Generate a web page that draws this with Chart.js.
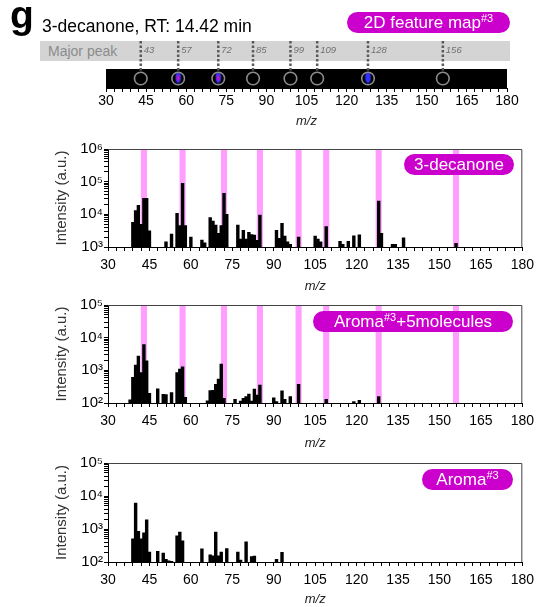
<!DOCTYPE html>
<html>
<head>
<meta charset="utf-8">
<script src="https://cdn.jsdelivr.net/npm/chart.js@4.4.1/dist/chart.umd.min.js"></script>
<style>
  body { margin: 0; width: 540px; height: 607px; background: #fff; position: relative; overflow: hidden;
         font-family: "Liberation Sans", Arial, sans-serif; }
  canvas { position: absolute; left: 0; }
  .pill { position: absolute; background: #cc00cc; color: #fff; border-radius: 11px; height: 21px;
          line-height: 21px; font-size: 17px; text-align: center; white-space: nowrap; }
  .pill sup { font-size: 11px; vertical-align: 6px; line-height: 0; }
  #letra { position: absolute; left: 10px; top: -5px; font-size: 39px; line-height: 39px; font-weight: bold; }
  #titulo { position: absolute; left: 42px; top: 16px; font-size: 17.5px; line-height: 20px; }
  #banda { position: absolute; left: 40px; top: 41px; width: 470px; height: 20px; background: #d4d4d4; }
  #banda span { position: absolute; left: 8px; top: 2px; font-size: 14px; line-height: 16px; color: #8c8c8c; }
</style>
</head>
<body>
<div id="banda"><span>Major peak</span></div>
<canvas id="mapa" width="540" height="129" style="top:0"></canvas>
<canvas id="c-decanona" width="540" height="166" style="top:128px"></canvas>
<canvas id="c-mezcla" width="540" height="167" style="top:284px"></canvas>
<canvas id="c-aroma" width="540" height="166" style="top:441px"></canvas>
<div id="letra">g</div>
<div id="titulo">3-decanone, RT: 14.42 min</div>
<div class="pill" style="left:347px; top:12px; width:163px;">2D feature map<sup>#3</sup></div>
<div class="pill" style="left:404px; top:154px; width:110px;">3-decanone</div>
<div class="pill" style="left:313px; top:311px; width:200px;">Aroma<sup>#3</sup>+5molecules</div>
<div class="pill" style="left:422px; top:469px; width:91px;">Aroma<sup>#3</sup></div>

<script>
// Eje m/z común
const mzMin = 30, mzMax = 180, mzStep = 3, mzLabelEvery = 15;

// Picos principales de la 3-decanona (mapa 2D)
const majorPeaks = [43, 57, 72, 85, 99, 109, 128, 156];
const mapHits = [57, 72, 128];
const mapHitInner = ['#b01cb8', '#b01cb8', null];

// Espectro 3-decanona
const decanoneMz  = [39, 40, 41, 42, 43, 44, 45, 51, 53, 55, 56, 57, 58, 60, 64, 65, 67, 68, 69, 70, 71, 72, 73,
                     77, 78, 79, 80, 81, 82, 83, 84, 85, 91, 92, 93, 94, 95, 96, 99, 105, 106, 107, 109,
                     114, 115, 117, 119, 121, 128, 129, 133, 134, 137, 156];
const decanoneInt = [5700, 13000, 19000, 4900, 31000, 31000, 3100, 1450, 2500, 10700, 4500, 89000, 4500, 2000,
                     1630, 1350, 7900, 6200, 4700, 2600, 4500, 44000, 10000,
                     4700, 1760, 3250, 1750, 2800, 2400, 2300, 1600, 9500, 3250, 1850, 5300, 2170, 1450, 1200,
                     2000, 2170, 1750, 1450, 4200, 1500, 1200, 1500, 2200, 2350, 25500, 2600, 1200, 1200, 1900, 1300];

// Espectro Aroma#3 + 5 moléculas
const mixMz  = [38, 39, 40, 41, 42, 43, 44, 45, 48, 50, 51, 53, 55, 56, 57, 58, 66, 67, 68, 69, 70, 71, 72,
                76, 78, 79, 80, 81, 82, 83, 84, 85, 90, 91, 93, 94, 96, 99, 109, 119, 121, 128];
const mixInt = [124, 610, 1450, 2750, 850, 6100, 1950, 198, 270, 185, 180, 210, 850, 1100, 1290, 150,
                116, 238, 245, 373, 540, 1550, 140, 130, 115, 139, 156, 188, 115, 268, 175, 355,
                145, 110, 237, 130, 156, 373, 130, 110, 120, 156];

// Espectro Aroma#3
const aromaMz  = [39, 40, 41, 42, 43, 44, 45, 48, 50, 51, 52, 53, 55, 56, 57, 64, 67, 68, 69, 70, 71, 73,
                  77, 78, 80, 82, 83, 91, 93];
const aromaInt = [500, 6100, 850, 500, 760, 1900, 200, 210, 187, 120, 108, 105, 625, 810, 440, 250,
                  166, 155, 810, 155, 200, 253, 200, 115, 405, 145, 150, 120, 197];

// Décadas del eje log y sus etiquetas
const decanoneDecades = [1e3, 1e4, 1e5, 1e6];
const decanoneLabels  = ['10³', '10⁴', '10⁵', '10⁶'];
const aromaDecades = [1e2, 1e3, 1e4, 1e5];
const aromaLabels  = ['10²', '10³', '10⁴', '10⁵'];

Chart.defaults.font.family = '"Liberation Sans", Arial, sans-serif';
Chart.defaults.color = '#000';

function mzAxis(height, labelPad) {
    return {
        type: 'linear', min: mzMin, max: mzMax, offset: false,
        ticks: {
            stepSize: mzStep, autoSkip: false, maxRotation: 0, padding: labelPad,
            font: { size: 14 }, color: '#000',
            callback: v => (v % mzLabelEvery === 0 ? v : '')
        },
        grid: { drawOnChartArea: false, tickLength: 4, color: '#000', offset: false },
        border: { color: '#000' },
        title: { display: true, text: 'm/z', font: { size: 13, style: 'italic' }, color: '#222', padding: { top: 0, bottom: 0 } },
        afterFit: s => { s.height = height; }
    };
}

// Mapa 2D de picos
function makeBlob(inner) {
    const c = document.createElement('canvas');
    c.width = 7; c.height = 12;
    const g = c.getContext('2d');
    g.fillStyle = '#3030ff';
    g.beginPath(); g.ellipse(3.5, 6, 2.8, 5.5, 0, 0, 2 * Math.PI); g.fill();
    if (inner) {
        g.fillStyle = inner;
        g.beginPath(); g.ellipse(3.5, 6.5, 1.6, 3.3, 0, 0, 2 * Math.PI); g.fill();
    }
    return c;
}

const mapPlugin = {
    id: 'mapa',
    beforeDatasetsDraw(chart) {
        const { ctx, chartArea: a, scales: { x } } = chart;
        ctx.save();
        ctx.fillStyle = '#000';
        ctx.fillRect(a.left, a.top, a.right - a.left, a.bottom - a.top);
        ctx.setLineDash([2.5, 2]);
        ctx.strokeStyle = '#5a5a5a';
        ctx.lineWidth = 2.5;
        majorPeaks.forEach(m => {
            const px = x.getPixelForValue(m);
            ctx.beginPath(); ctx.moveTo(px, 41); ctx.lineTo(px, a.top + 2); ctx.stroke();
        });
        ctx.setLineDash([]);
        ctx.font = 'italic 9.5px "Liberation Sans", Arial';
        ctx.fillStyle = '#707070';
        ctx.textBaseline = 'middle';
        majorPeaks.forEach(m => ctx.fillText(String(m), x.getPixelForValue(m) + 3, 50));
        ctx.restore();
    }
};

new Chart(document.getElementById('mapa'), {
    type: 'scatter',
    data: {
        datasets: [{
            data: majorPeaks.map(m => ({ x: m, y: 0.5 })),
            pointRadius: 6.3, pointBorderWidth: 1.6,
            pointBorderColor: '#8c8c8c', pointBackgroundColor: 'rgba(0,0,0,0)'
        }, {
            data: mapHits.map(m => ({ x: m, y: 0.55 })),
            pointStyle: mapHitInner.map(makeBlob)
        }]
    },
    options: {
        responsive: false, animation: false,
        layout: { padding: { left: 106, right: 33, top: 69, bottom: 0 } },
        plugins: { legend: { display: false }, tooltip: { enabled: false } },
        scales: {
            x: mzAxis(41, 1),
            y: { display: false, min: 0, max: 1 }
        }
    },
    plugins: [mapPlugin]
});

// Paneles de espectros
const bandPlugin = {
    id: 'bandas',
    beforeDatasetsDraw(chart, args, opts) {
        const { ctx, chartArea: a, scales: { x } } = chart;
        ctx.save();
        ctx.fillStyle = '#ff9eff';
        (opts.peaks || []).forEach(m => {
            const x0 = x.getPixelForValue(m - 1.1), x1 = x.getPixelForValue(m + 1.1);
            ctx.fillRect(x0, a.top, x1 - x0, a.bottom - a.top);
        });
        ctx.restore();
    },
    afterDatasetsDraw(chart) {
        const { ctx, chartArea: a } = chart;
        ctx.save();
        ctx.strokeStyle = '#444';
        ctx.lineWidth = 1;
        ctx.beginPath();
        ctx.moveTo(a.left, a.top + 0.5); ctx.lineTo(a.right - 0.5, a.top + 0.5); ctx.lineTo(a.right - 0.5, a.bottom);
        ctx.stroke();
        ctx.restore();
    }
};

function createSpectrum(id, mz, values, decades, labels, padTop, axisHeight, peaks) {
    const tickValues = [];
    for (let i = 0; i < decades.length - 1; i++) {
        for (let k = 1; k < 10; k++) tickValues.push(decades[i] * k);
    }
    tickValues.push(decades[decades.length - 1]);

    new Chart(document.getElementById(id), {
        type: 'bar',
        data: {
            datasets: [{
                data: mz.map((m, i) => ({ x: m, y: values[i] })),
                backgroundColor: '#000', borderWidth: 0,
                barPercentage: 1, categoryPercentage: 1
            }]
        },
        options: {
            responsive: false, animation: false,
            layout: { padding: { left: 0, right: 16, top: padTop, bottom: 0 } },
            plugins: { legend: { display: false }, tooltip: { enabled: false }, bandas: { peaks: peaks } },
            scales: {
                x: mzAxis(axisHeight, 6),
                y: {
                    type: 'logarithmic', min: decades[0], max: decades[decades.length - 1], beginAtZero: false,
                    afterBuildTicks: s => { s.ticks = tickValues.map(v => ({ value: v })); },
                    afterFit: s => { s.width = 108; },
                    ticks: {
                        autoSkip: false, padding: 1, font: { size: 15 }, color: '#000',
                        callback: v => { const i = decades.indexOf(v); return i >= 0 ? labels[i] : ''; }
                    },
                    grid: { drawOnChartArea: false, tickLength: 4, color: '#000' },
                    border: { color: '#000' },
                    title: { display: true, text: 'Intensity (a.u.)', font: { size: 15 }, color: '#333',
                             padding: { top: 53, bottom: 0 } }
                }
            }
        },
        plugins: [bandPlugin]
    });
}

createSpectrum('c-decanona', decanoneMz, decanoneInt, decanoneDecades, decanoneLabels, 21, 47, majorPeaks);
createSpectrum('c-mezcla', mixMz, mixInt, aromaDecades, aromaLabels, 21, 48, majorPeaks);
createSpectrum('c-aroma', aromaMz, aromaInt, aromaDecades, aromaLabels, 22, 45, []);
</script>
</body>
</html>
